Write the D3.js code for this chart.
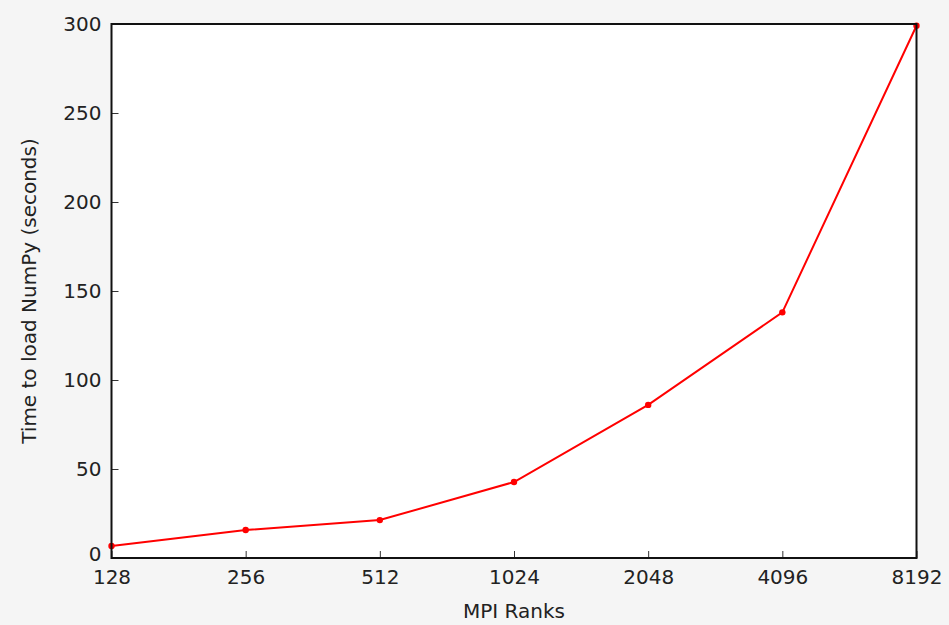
<!DOCTYPE html>
<html><head><meta charset="utf-8">
<script src="https://cdn.jsdelivr.net/npm/d3@7"></script>
<style>html,body{margin:0;padding:0;background:#f5f5f5;}svg{display:block;}</style>
</head><body>
<svg id="c" width="949" height="625"></svg>
<script>
const ranks = [128, 256, 512, 1024, 2048, 4096, 8192];
const loadTimes = [6.7, 15.7, 21.3, 42.7, 86, 138, 299];
const yTicks = [0, 50, 100, 150, 200, 250, 300];
const xLabel = "MPI Ranks";
const yLabel = "Time to load NumPy (seconds)";

const svg = d3.select("#c");
const m = {l: 111.5, r: 916.5, t: 24, b: 558};
const x = d3.scaleLog().base(2).domain([128, 8192]).range([m.l, m.r]);
const y = d3.scaleLinear().domain([0, 300]).range([m.b, m.t]);
const font = "'DejaVu Sans', sans-serif";

svg.append("rect").attr("x", m.l).attr("y", m.t).attr("width", m.r - m.l).attr("height", m.b - m.t).attr("fill", "#fff");

const xa = svg.append("g").attr("transform", `translate(0,${m.b})`)
  .call(d3.axisBottom(x).tickValues(ranks).tickFormat(d3.format("d")).tickSizeInner(-7).tickSizeOuter(0).tickPadding(12));
const ya = svg.append("g").attr("transform", `translate(${m.l},0)`)
  .call(d3.axisLeft(y).tickValues(yTicks).tickSizeInner(-7).tickSizeOuter(0).tickPadding(10));
[xa, ya].forEach(a => {
  a.select(".domain").remove();
  a.selectAll("line").attr("stroke", "#333").attr("stroke-width", 1);
  a.selectAll("text").attr("font-family", font).attr("font-size", 20).attr("fill", "#222");
});
ya.selectAll(".tick").filter(d => d === 0).select("text").attr("dy", "0.1em");

const line = d3.line().x((d, i) => x(ranks[i])).y(d => y(d));
svg.append("path").datum(loadTimes).attr("d", line).attr("fill", "none").attr("stroke", "#ff0000").attr("stroke-width", 2);
svg.selectAll("circle.pt").data(loadTimes).enter().append("circle")
  .attr("cx", (d, i) => x(ranks[i])).attr("cy", d => y(d)).attr("r", 3.2).attr("fill", "#ff0000");

svg.append("rect").attr("x", m.l).attr("y", m.t).attr("width", m.r - m.l).attr("height", m.b - m.t)
  .attr("fill", "none").attr("stroke", "#111").attr("stroke-width", 2);

svg.append("text").attr("x", (m.l + m.r) / 2).attr("y", 618).attr("text-anchor", "middle")
  .attr("font-family", font).attr("font-size", 20).attr("fill", "#222").text(xLabel);
svg.append("text").attr("transform", `translate(36,${(m.t + m.b) / 2}) rotate(-90)`).attr("text-anchor", "middle")
  .attr("font-family", font).attr("font-size", 20).attr("fill", "#222").text(yLabel);
</script>
</body></html>
